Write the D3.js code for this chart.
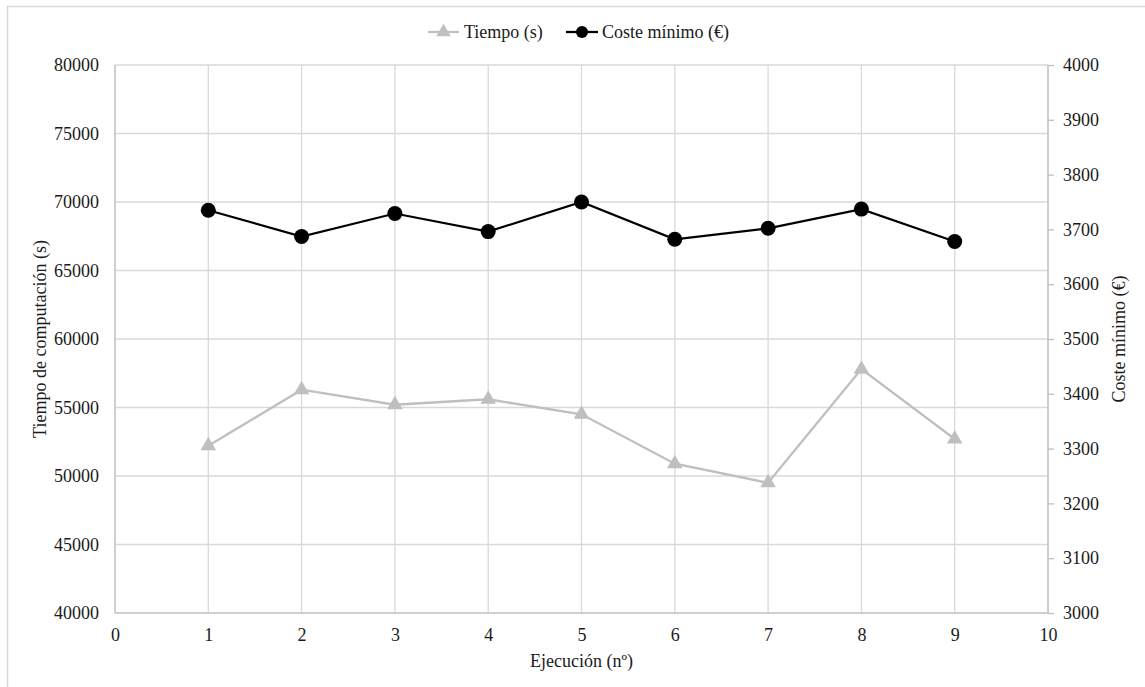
<!DOCTYPE html>
<html><head><meta charset="utf-8">
<script src="https://cdn.jsdelivr.net/npm/d3@7"></script>
<style>body{margin:0;background:#fff;} svg{display:block;} svg text{font-family:'Liberation Serif','Times New Roman',Tinos,serif;}</style>
</head><body><svg id="c" width="1145" height="687"></svg>
<script>
const ejecucion = [1,2,3,4,5,6,7,8,9];
const tiempo = [52200,56300,55200,55600,54500,50900,49500,57800,52700];
const coste = [3735,3687,3729,3696,3750,3682,3702,3737,3678];
const xTicks = [0,1,2,3,4,5,6,7,8,9,10];
const yLeftTicks = [40000,45000,50000,55000,60000,65000,70000,75000,80000];
const yRightTicks = [3000,3100,3200,3300,3400,3500,3600,3700,3800,3900,4000];

const svg = d3.select("#c");
const L=115, R=1048, T=65, B=613;
const x = d3.scaleLinear().domain([0,10]).range([L,R]);
const yL = d3.scaleLinear().domain([40000,80000]).range([B,T]);
const yR = d3.scaleLinear().domain([3000,4000]).range([B,T]);
const fs = 18;
const txt = "#1a1a1a";

// border
svg.append("rect").attr("x",7.5).attr("y",6.5).attr("width",1200).attr("height",800)
  .attr("fill","none").attr("stroke","#d9d9d9").attr("stroke-width",1.5);

// gridlines
svg.append("g").selectAll("line").data(yLeftTicks.slice(1)).join("line")
  .attr("x1",L).attr("x2",R).attr("y1",d=>yL(d)).attr("y2",d=>yL(d))
  .attr("stroke","#d9d9d9").attr("stroke-width",1.3);
svg.append("g").selectAll("line").data(xTicks.slice(1,-1)).join("line")
  .attr("x1",d=>x(d)).attr("x2",d=>x(d)).attr("y1",T).attr("y2",B)
  .attr("stroke","#d9d9d9").attr("stroke-width",1.3);

// axes
const axL = svg.append("g").attr("transform",`translate(${L},0)`)
  .call(d3.axisLeft(yL).tickValues(yLeftTicks).tickSize(0).tickPadding(16).tickFormat(d3.format("d")));
const axR = svg.append("g").attr("transform",`translate(${R},0)`)
  .call(d3.axisRight(yR).tickValues(yRightTicks).tickSize(6).tickPadding(9).tickFormat(d3.format("d")));
const axB = svg.append("g").attr("transform",`translate(0,${B})`)
  .call(d3.axisBottom(x).tickValues(xTicks).tickSize(0).tickPadding(15).tickFormat(d3.format("d")));
[axL,axR,axB].forEach(a=>{
  a.attr("font-family",null).attr("font-size",fs);
  a.select(".domain").attr("stroke","#bfbfbf").attr("stroke-width",1.5);
  a.selectAll(".tick line").attr("stroke","#bfbfbf").attr("stroke-width",1.3);
  a.selectAll("text").attr("fill",txt);
});
axL.select(".domain").attr("d",`M0,${T}V${B}`);
axR.select(".domain").attr("d",`M0,${T}V${B}`);
axB.select(".domain").attr("d",`M${L},0H${R}`);

// axis titles
svg.append("text").attr("transform",`translate(46,${(T+B)/2}) rotate(-90)`).attr("text-anchor","middle")
  .attr("font-size",fs).attr("fill",txt).text("Tiempo de computación (s)");
svg.append("text").attr("transform",`translate(1125,${(T+B)/2}) rotate(-90)`).attr("text-anchor","middle")
  .attr("font-size",fs).attr("fill",txt).text("Coste mínimo (€)");
svg.append("text").attr("x",(L+R)/2).attr("y",667).attr("text-anchor","middle")
  .attr("font-size",fs).attr("fill",txt).text("Ejecución (nº)");

// series
const tri = d3.symbol().type(d3.symbolTriangle).size(105);
const lineT = d3.line().x((d,i)=>x(ejecucion[i])).y(d=>yL(d));
svg.append("path").datum(tiempo).attr("d",lineT).attr("fill","none").attr("stroke","#bfbfbf").attr("stroke-width",2.3);
svg.append("g").selectAll("path").data(tiempo).join("path")
  .attr("transform",(d,i)=>`translate(${x(ejecucion[i])},${yL(d)})`).attr("d",tri).attr("fill","#bfbfbf");

const lineC = d3.line().x((d,i)=>x(ejecucion[i])).y(d=>yR(d));
svg.append("path").datum(coste).attr("d",lineC).attr("fill","none").attr("stroke","#000").attr("stroke-width",2.2);
svg.append("g").selectAll("circle").data(coste).join("circle")
  .attr("cx",(d,i)=>x(ejecucion[i])).attr("cy",d=>yR(d)).attr("r",7.5).attr("fill","#000");

// legend
const lg = svg.append("g");
lg.append("line").attr("x1",428).attr("x2",459).attr("y1",32).attr("y2",32).attr("stroke","#bfbfbf").attr("stroke-width",2.3);
lg.append("path").attr("transform","translate(443.5,32)").attr("d",d3.symbol().type(d3.symbolTriangle).size(90)).attr("fill","#bfbfbf");
lg.append("text").attr("x",464).attr("y",38).attr("font-size",fs).attr("fill",txt).text("Tiempo (s)");
lg.append("line").attr("x1",566).attr("x2",598).attr("y1",32).attr("y2",32).attr("stroke","#000").attr("stroke-width",2.3);
lg.append("circle").attr("cx",582).attr("cy",32).attr("r",6).attr("fill","#000");
lg.append("text").attr("x",602).attr("y",38).attr("font-size",fs).attr("fill",txt).text("Coste mínimo (€)");
</script></body></html>
